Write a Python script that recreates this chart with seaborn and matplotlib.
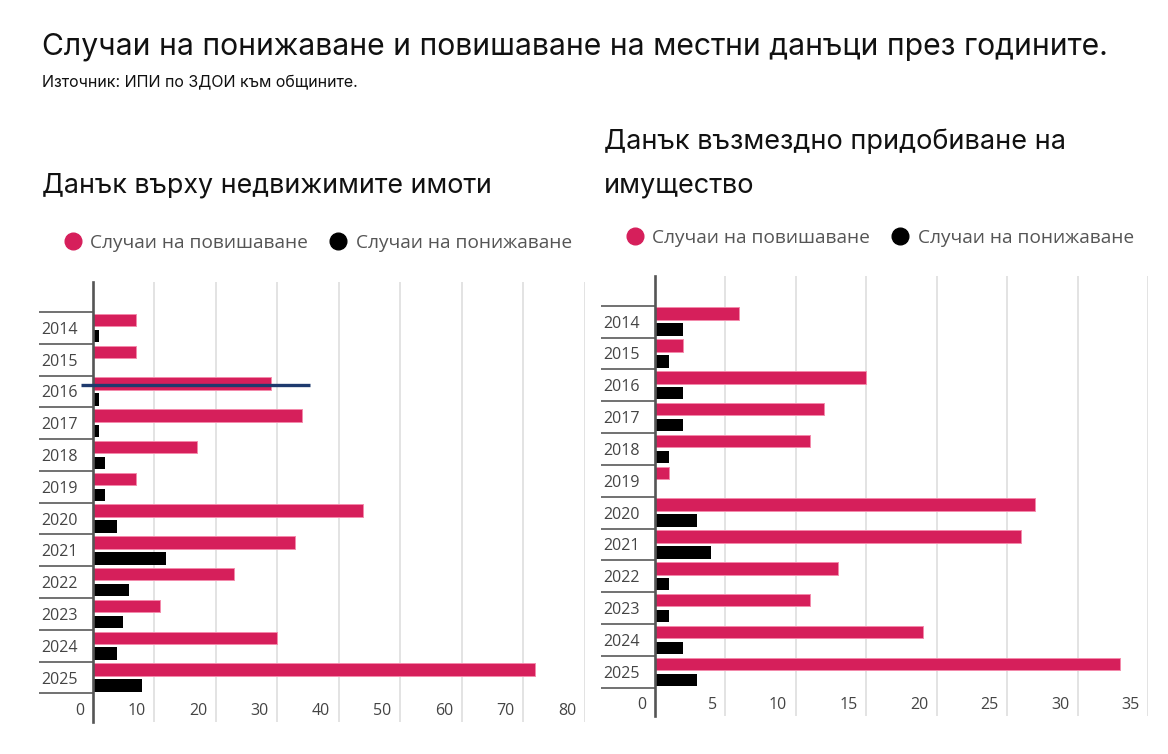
import pandas as pd
import matplotlib.pyplot as plt
import matplotlib.transforms as mtransforms
from matplotlib.lines import Line2D
import seaborn as sns

# =========================
# DATA
# =========================

YEARS = ["2014", "2015", "2016", "2017", "2018", "2019",
         "2020", "2021", "2022", "2023", "2024", "2025"]

SERIES = ["Случаи на повишаване", "Случаи на понижаване"]

# Данък върху недвижимите имоти
PROPERTY_UP = [7, 7, 29, 34, 17, 7, 44, 33, 23, 11, 30, 72]
PROPERTY_DOWN = [1, 0, 1, 1, 2, 2, 4, 12, 6, 5, 4, 8]
PROPERTY_TICKS = [0, 10, 20, 30, 40, 50, 60, 70, 80]

# Данък възмездно придобиване на имущество
TRANSFER_UP = [6, 2, 15, 12, 11, 1, 27, 26, 13, 11, 19, 33]
TRANSFER_DOWN = [2, 1, 2, 2, 1, 0, 3, 4, 1, 1, 2, 3]
TRANSFER_TICKS = [0, 5, 10, 15, 20, 25, 30, 35]

# stray highlight line drawn across the 2016 row in the left chart
HIGHLIGHT_YEAR = "2016"
HIGHLIGHT_SPAN = (-1.9, 35.3)

TITLE = "Случаи на понижаване и повишаване на местни данъци през годините."
SOURCE = "Източник: ИПИ по ЗДОИ към общините."
LEFT_TITLE = "Данък върху недвижимите имоти"
RIGHT_TITLE = "Данък възмездно придобиване на\nимущество"

RED = "#d61f5b"
BLACK = "#000000"
NAVY = "#1e3a6e"

# =========================
# STYLE
# =========================

sns.set_style("white")
plt.rcParams["font.family"] = ["Open Sans", "DejaVu Sans"]

fig = plt.figure(figsize=(11.68, 7.54), dpi=100)
W, H = 1168, 754


def long_frame(up, down):
    return pd.DataFrame({
        "year": YEARS * 2,
        "series": [SERIES[0]] * len(YEARS) + [SERIES[1]] * len(YEARS),
        "value": up + down,
    })


def draw_panel(rect, up, down, ticks, ylim):
    ax = fig.add_axes(rect)
    sns.barplot(
        data=long_frame(up, down),
        y="year",
        x="value",
        hue="series",
        palette=[RED, BLACK],
        saturation=1,
        orient="h",
        width=1.0,
        gap=0.22,
        linewidth=0,
        legend=False,
        ax=ax,
    )

    # light pink rim on the red bars
    for p in ax.patches[:len(YEARS)]:
        p.set_edgecolor("#f48aab")
        p.set_linewidth(0.7)

    ax.set_xlim(ticks[0], ticks[-1])
    ax.set_ylim(*ylim)
    ax.set_xlabel("")
    ax.set_ylabel("")

    for side in ["top", "right", "bottom"]:
        ax.spines[side].set_visible(False)
    ax.spines["left"].set_color("#555555")
    ax.spines["left"].set_linewidth(1.9)
    ax.spines["left"].set_zorder(4)

    ax.grid(axis="x", color="#dedede", linewidth=1.2)
    ax.grid(axis="y", visible=False)
    ax.set_axisbelow(True)

    # year labels + row separators
    ax.set_yticks(range(len(YEARS)))
    ax.set_yticklabels(YEARS)
    ax.set_yticks([i - 0.5 for i in range(len(YEARS) + 1)], minor=True)
    ax.tick_params(axis="y", which="major", left=False, length=0, pad=10.5,
                   labelsize=11.5, labelcolor="#444444")
    ax.tick_params(axis="y", which="minor", left=True, length=39, width=1.3,
                   color="#666666", direction="out")

    # value labels sit inside the plot, a bit left of each gridline
    ax.set_xticks(ticks)
    ax.set_xticklabels([str(t) for t in ticks])
    ax.tick_params(axis="x", length=0, pad=0, labelsize=11.5,
                   labelcolor="#444444")
    offset = mtransforms.ScaledTranslation(-8.5 / 100, 11 / 100,
                                           fig.dpi_scale_trans)
    for lab in ax.get_xticklabels():
        lab.set_horizontalalignment("right")
        lab.set_verticalalignment("center")
        lab.set_transform(lab.get_transform() + offset)
    return ax


def add_legend(ax, x, y):
    handles = [
        Line2D([], [], marker="o", linestyle="", markersize=12,
               markerfacecolor=c, markeredgecolor=c)
        for c in [RED, BLACK]
    ]
    ax.legend(
        handles, SERIES,
        loc="center left",
        bbox_to_anchor=(x / W, 1 - y / H),
        bbox_transform=fig.transFigure,
        ncol=2,
        frameon=False,
        fontsize=13.8,
        labelcolor="#555555",
        handlelength=1.0,
        handletextpad=0.4,
        columnspacing=1.1,
        borderpad=0,
        borderaxespad=0,
    )


# =========================
# PANELS
# =========================

ax_left = draw_panel(
    [92.5 / W, 1 - 721.7 / H, 492.1 / W, 440 / H],
    PROPERTY_UP, PROPERTY_DOWN, PROPERTY_TICKS, (12.39, -1.454)
)
ax_left.hlines(YEARS.index(HIGHLIGHT_YEAR) - 0.21, *HIGHLIGHT_SPAN,
               color=NAVY, linewidth=2.4, clip_on=False, zorder=6)

ax_right = draw_panel(
    [654.7 / W, 1 - 716 / H, 493.5 / W, 440 / H],
    TRANSFER_UP, TRANSFER_DOWN, TRANSFER_TICKS, (12.39, -1.433)
)

add_legend(ax_left, 63, 243)
add_legend(ax_right, 625, 238)

# =========================
# TITLES
# =========================

title_font = ["Inter", "DejaVu Sans"]

fig.text(42 / W, 1 - 47 / H, TITLE, fontsize=21.7, family=title_font,
         color="#111111", va="center", ha="left")
fig.text(42 / W, 1 - 83 / H, SOURCE, fontsize=11.5, family=title_font,
         color="#111111", va="center", ha="left")
fig.text(42 / W, 1 - 185 / H, LEFT_TITLE, fontsize=19.3, family=title_font,
         color="#111111", va="center", ha="left")
fig.text(604 / W, 1 - 163.5 / H, RIGHT_TITLE, fontsize=19.5, family=title_font,
         color="#111111", va="center", ha="left", linespacing=1.85)

fig.savefig("out.png", dpi=100)
